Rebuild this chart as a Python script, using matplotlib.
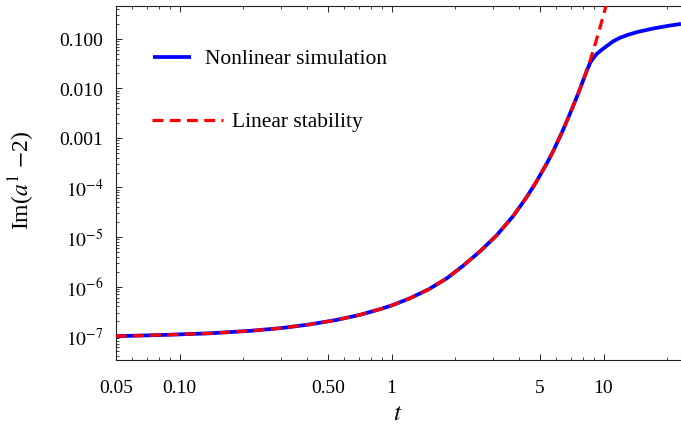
import matplotlib
matplotlib.use("Agg")
import matplotlib.pyplot as plt
from matplotlib.ticker import FixedLocator, FixedFormatter, LogLocator, NullFormatter

# ---- data ----
t_nonlinear = [0.05, 0.08, 0.139, 0.215, 0.30, 0.41, 0.55, 0.71, 0.883, 1.0, 1.22, 1.5,
               1.82, 2.18, 2.61, 3.13, 3.75, 4.34, 4.84, 5.4, 5.8, 6.4, 6.95, 7.6, 8.03,
               8.34, 8.65, 9.0, 9.3, 9.65, 10.0, 10.6, 11.1, 12.0, 13.0, 14.4, 17.2, 20.0, 23.2]
v_nonlinear = [1.0e-7, 1.05e-7, 1.14e-7, 1.28e-7, 1.45e-7, 1.72e-7, 2.12e-7, 2.69e-7, 3.5e-7,
               4.15e-7, 5.8e-7, 8.85e-7, 1.46e-6, 2.65e-6, 5.1e-6, 1.08e-5, 2.65e-5, 6.4e-5,
               1.34e-4, 3.06e-4, 5.5e-4, 1.36e-3, 3.1e-3, 7.9e-3, 0.0148,
               0.0228, 0.033, 0.042, 0.050, 0.057, 0.064, 0.077, 0.089, 0.106, 0.12, 0.137,
               0.162, 0.182, 0.20]

t_linear = [0.05, 0.08, 0.139, 0.215, 0.30, 0.41, 0.55, 0.71, 0.883, 1.0, 1.22, 1.5,
            1.82, 2.18, 2.61, 3.13, 3.75, 4.34, 4.84, 5.4, 5.8, 6.4, 6.95, 7.6, 8.03,
            8.34, 8.65, 9.0, 9.3, 9.65, 10.0, 10.3, 10.6]
v_linear = [1.0e-7, 1.05e-7, 1.14e-7, 1.28e-7, 1.45e-7, 1.72e-7, 2.12e-7, 2.69e-7, 3.5e-7,
            4.15e-7, 5.8e-7, 8.85e-7, 1.46e-6, 2.65e-6, 5.1e-6, 1.08e-5, 2.65e-5, 6.4e-5,
            1.34e-4, 3.06e-4, 5.5e-4, 1.36e-3, 3.1e-3, 7.9e-3, 0.0148,
            0.0232, 0.0367, 0.0635, 0.102, 0.176, 0.304, 0.486, 0.78]

x_major = [0.05, 0.1, 0.5, 1, 5, 10]
x_major_labels = ["0.05", "0.10", "0.50", "1", "5", "10"]
x_minor = [0.06, 0.07, 0.08, 0.09, 0.2, 0.3, 0.4, 0.6, 0.7, 0.8, 0.9, 2, 3, 4, 6, 7, 8, 9, 20]
y_major = [1e-7, 1e-6, 1e-5, 1e-4, 1e-3, 1e-2, 1e-1]
y_major_labels = [r"$10^{-7}$", r"$10^{-6}$", r"$10^{-5}$", r"$10^{-4}$", "0.001", "0.010", "0.100"]

legend_labels = ["Nonlinear simulation", "Linear stability"]

plt.rcParams["font.family"] = ["Liberation Serif", "DejaVu Serif"]
plt.rcParams["mathtext.fontset"] = "stix"

W, H = 681, 427
fig = plt.figure(figsize=(W / 100, H / 100), dpi=100)
left, right, top, bottom = 115.7, 681.0, 7.0, 361.0
ax = fig.add_axes([left / W, 1 - bottom / H, (right - left) / W, (bottom - top) / H])

ax.plot(t_nonlinear, v_nonlinear, color="#0000ff", lw=2.7, solid_capstyle="butt",
        solid_joinstyle="round", zorder=3)
ax.plot(t_linear, v_linear, color="#ff0000", lw=2.3, dashes=(3.4, 2.0), zorder=4)

ax.set_xscale("log")
ax.set_yscale("log")
ax.set_xlim(0.05, 23.2)
ax.set_ylim(3.3e-8, 0.46)

ax.xaxis.set_major_locator(FixedLocator(x_major))
ax.xaxis.set_major_formatter(FixedFormatter(x_major_labels))
ax.xaxis.set_minor_locator(FixedLocator(x_minor))
ax.xaxis.set_minor_formatter(NullFormatter())
ax.yaxis.set_major_locator(FixedLocator(y_major))
ax.yaxis.set_major_formatter(FixedFormatter(y_major_labels))
ax.yaxis.set_minor_locator(LogLocator(base=10, subs=[2, 3, 4, 5, 6, 7, 8, 9], numticks=20))
ax.yaxis.set_minor_formatter(NullFormatter())

for s in ["left", "bottom", "top"]:
    ax.spines[s].set_linewidth(0.8)
    ax.spines[s].set_color("#222222")
ax.spines["right"].set_visible(False)

ax.tick_params(which="both", direction="in", top=True, right=False, color="#222222")
ax.tick_params(which="major", length=4.5, width=0.7, labelsize=14)
ax.tick_params(which="minor", length=2.5, width=0.6)
ax.tick_params(axis="x", which="major", pad=14)
ax.tick_params(axis="y", which="major", pad=9)

# legend drawn manually
ax.plot([0.066, 0.133], [0.856, 0.856], transform=ax.transAxes, color="#0000ff", lw=2.7,
        solid_capstyle="butt", clip_on=False)
ax.text(0.158, 0.839, legend_labels[0], transform=ax.transAxes, fontsize=15.5,
        ha="left", va="baseline")
ax.plot([0.064, 0.19], [0.678, 0.678], transform=ax.transAxes, color="#ff0000", lw=2.3,
        dashes=(3.4, 2.0), clip_on=False)
ax.text(0.206, 0.661, legend_labels[1], transform=ax.transAxes, fontsize=15.5,
        ha="left", va="baseline")

fig.text(22 / W, 1 - 180 / H, r"Im($a^{1}$ $-$2)", rotation=90, ha="center", va="center",
         fontsize=17)
fig.text(398 / W, 1 - 414 / H, r"$t$", ha="center", va="center", fontsize=18)

fig.savefig("out.png", dpi=100)
